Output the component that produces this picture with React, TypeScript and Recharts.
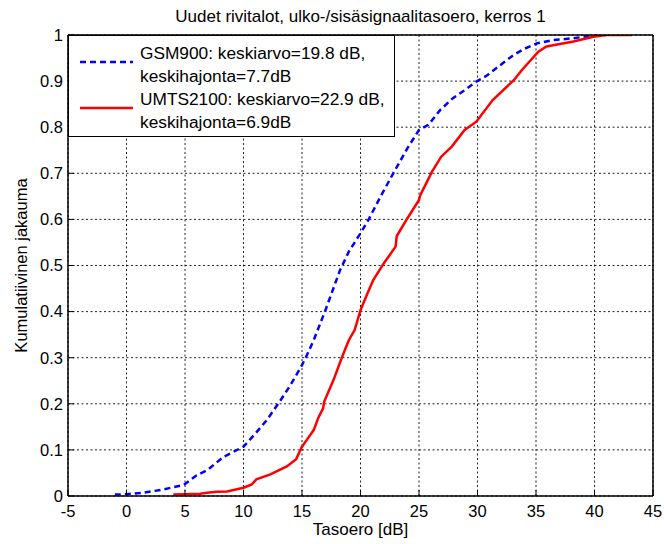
import { LineChart, Line, XAxis, YAxis, CartesianGrid, Label } from "recharts";

const FONT = '"Liberation Sans", Arial, Helvetica, sans-serif';

const title = "Uudet rivitalot, ulko-/sisäsignaalitasoero, kerros 1";
const xLabel = "Tasoero [dB]";
const yLabel = "Kumulatiivinen jakauma";

const xTicks = [-5, 0, 5, 10, 15, 20, 25, 30, 35, 40, 45];
const yTicks = [0, 0.1, 0.2, 0.3, 0.4, 0.5, 0.6, 0.7, 0.8, 0.9, 1];

// GSM900, blue dashed
const gsmX = [
  -1, 0, 1.4, 3.1, 4.9, 6.0, 6.9, 8.3, 10, 11, 12, 13.1, 14, 15, 15.5, 16, 17,
  18.25, 19, 20, 20.7, 21.7, 22.8, 24, 25, 25.8, 26.8, 27.9, 29, 29.9, 30.8,
  31.6, 33.1, 34, 35.1, 36.5, 38.2, 39.9, 41,
];
const gsmY = [
  0.003, 0.004, 0.007, 0.014, 0.024, 0.045, 0.056, 0.085, 0.107, 0.135, 0.165,
  0.205, 0.24, 0.284, 0.31, 0.338, 0.403, 0.49, 0.53, 0.57, 0.6, 0.649, 0.7,
  0.754, 0.794, 0.805, 0.837, 0.863, 0.882, 0.899, 0.912, 0.928, 0.957, 0.97,
  0.982, 0.989, 0.993, 0.999, 1.0,
];

// UMTS2100, red solid
const umtsX = [
  4, 5, 6.3, 6.9, 7.7, 8.6, 10, 10.7, 11.1, 12.3, 13.7, 14.5, 15, 15.5, 16,
  16.4, 16.8, 16.9, 17.7, 18.4, 19, 19.5, 20, 20.6, 21.1, 22, 23, 23.1, 24, 25,
  25.1, 26.1, 26.9, 27.8, 28.9, 29.9, 31.3, 33.1, 33.8, 35.2, 35.9, 38.2, 39.9,
  41, 43.2,
];
const umtsY = [
  0.003, 0.004, 0.005, 0.007, 0.009, 0.01, 0.018, 0.025, 0.036, 0.047, 0.064,
  0.08, 0.107, 0.125, 0.143, 0.17, 0.19, 0.205, 0.252, 0.3, 0.338, 0.36, 0.403,
  0.44, 0.469, 0.505, 0.541, 0.564, 0.602, 0.642, 0.652, 0.703, 0.736, 0.758,
  0.794, 0.812, 0.859, 0.902, 0.924, 0.964, 0.975, 0.986, 0.996, 1.0, 1.0,
];

const legendLabels = [
  ["GSM900: keskiarvo=19.8 dB,", "keskihajonta=7.7dB"],
  ["UMTS2100: keskiarvo=22.9 dB,", "keskihajonta=6.9dB"],
];
const legendColors = ["#0000ff", "#ff0000"];
const legendDash = ["6 4", undefined];

const gsmData = gsmX.map((x, i) => ({ x, y: gsmY[i] }));
const umtsData = umtsX.map((x, i) => ({ x, y: umtsY[i] }));

const tickStyle = { fill: "#000", fontSize: 16.5, fontFamily: FONT };
const axisLine = { stroke: "#000", strokeWidth: 1.5 };
const tickLine = { stroke: "#000", strokeWidth: 1 };

function LegendBox() {
  return (
    <div
      style={{
        position: "absolute",
        left: 68,
        top: 35,
        width: 327,
        height: 102,
        boxSizing: "border-box",
        border: "1.5px solid #000",
        background: "#fff",
        fontFamily: FONT,
        fontSize: 17.3,
        lineHeight: "23px",
        color: "#000",
        paddingTop: 6,
      }}
    >
      {legendLabels.map((lines, i) => (
        <div key={i} style={{ position: "relative", height: 46 }}>
          <svg
            width={56}
            height={8}
            style={{ position: "absolute", left: 11, top: 16 }}
          >
            <line
              x1={0}
              y1={4}
              x2={53}
              y2={4}
              stroke={legendColors[i]}
              strokeWidth={2.5}
              strokeDasharray={legendDash[i]}
            />
          </svg>
          <div style={{ position: "absolute", left: 71, top: 0, whiteSpace: "nowrap" }}>
            {lines.map((t) => (
              <div key={t}>{t}</div>
            ))}
          </div>
        </div>
      ))}
    </div>
  );
}

export default function App() {
  return (
    <div
      style={{
        position: "absolute",
        left: 0,
        top: 0,
        width: 664,
        height: 544,
        background: "#fff",
        fontFamily: FONT,
      }}
    >
      <LineChart
        width={664}
        height={544}
        margin={{ top: 34, right: 10, bottom: 47, left: 67 }}
      >
        <CartesianGrid stroke="#222" strokeDasharray="2 2.5" strokeWidth={1} />
        <XAxis
          dataKey="x"
          type="number"
          domain={[-5, 45]}
          ticks={xTicks}
          allowDataOverflow
          height={1}
          tick={tickStyle}
          tickSize={-6}
          tickMargin={15}
          axisLine={axisLine}
          tickLine={tickLine}
          interval={0}
        >
          <Label
            value={xLabel}
            position="bottom"
            offset={26}
            style={{ fill: "#000", fontSize: 17, fontFamily: FONT }}
          />
        </XAxis>
        <XAxis
          xAxisId="top"
          orientation="top"
          dataKey="x"
          type="number"
          domain={[-5, 45]}
          ticks={xTicks}
          allowDataOverflow
          height={1}
          tick={false}
          tickSize={-6}
          axisLine={axisLine}
          tickLine={tickLine}
          interval={0}
        >
          <Label
            value={title}
            position="top"
            offset={12}
            style={{ fill: "#000", fontSize: 17, fontFamily: FONT }}
          />
        </XAxis>
        <YAxis
          type="number"
          domain={[0, 1]}
          ticks={yTicks}
          allowDataOverflow
          width={1}
          tick={tickStyle}
          tickSize={-6}
          tickMargin={11}
          axisLine={axisLine}
          tickLine={tickLine}
          interval={0}
        >
          <Label
            value={yLabel}
            angle={-90}
            position="left"
            offset={46}
            style={{ fill: "#000", fontSize: 16.5, fontFamily: FONT, textAnchor: "middle" }}
          />
        </YAxis>
        <YAxis
          yAxisId="right"
          orientation="right"
          type="number"
          domain={[0, 1]}
          ticks={yTicks}
          allowDataOverflow
          width={1}
          tick={false}
          tickSize={-6}
          axisLine={axisLine}
          tickLine={tickLine}
          interval={0}
        />
        <Line
          data={gsmData}
          dataKey="y"
          type="linear"
          stroke="#0000ff"
          strokeWidth={2.5}
          strokeDasharray="6 4"
          dot={false}
          activeDot={false}
          isAnimationActive={false}
        />
        <Line
          data={umtsData}
          dataKey="y"
          type="linear"
          stroke="#ff0000"
          strokeWidth={2.5}
          dot={false}
          activeDot={false}
          isAnimationActive={false}
        />
      </LineChart>
      <LegendBox />
    </div>
  );
}
